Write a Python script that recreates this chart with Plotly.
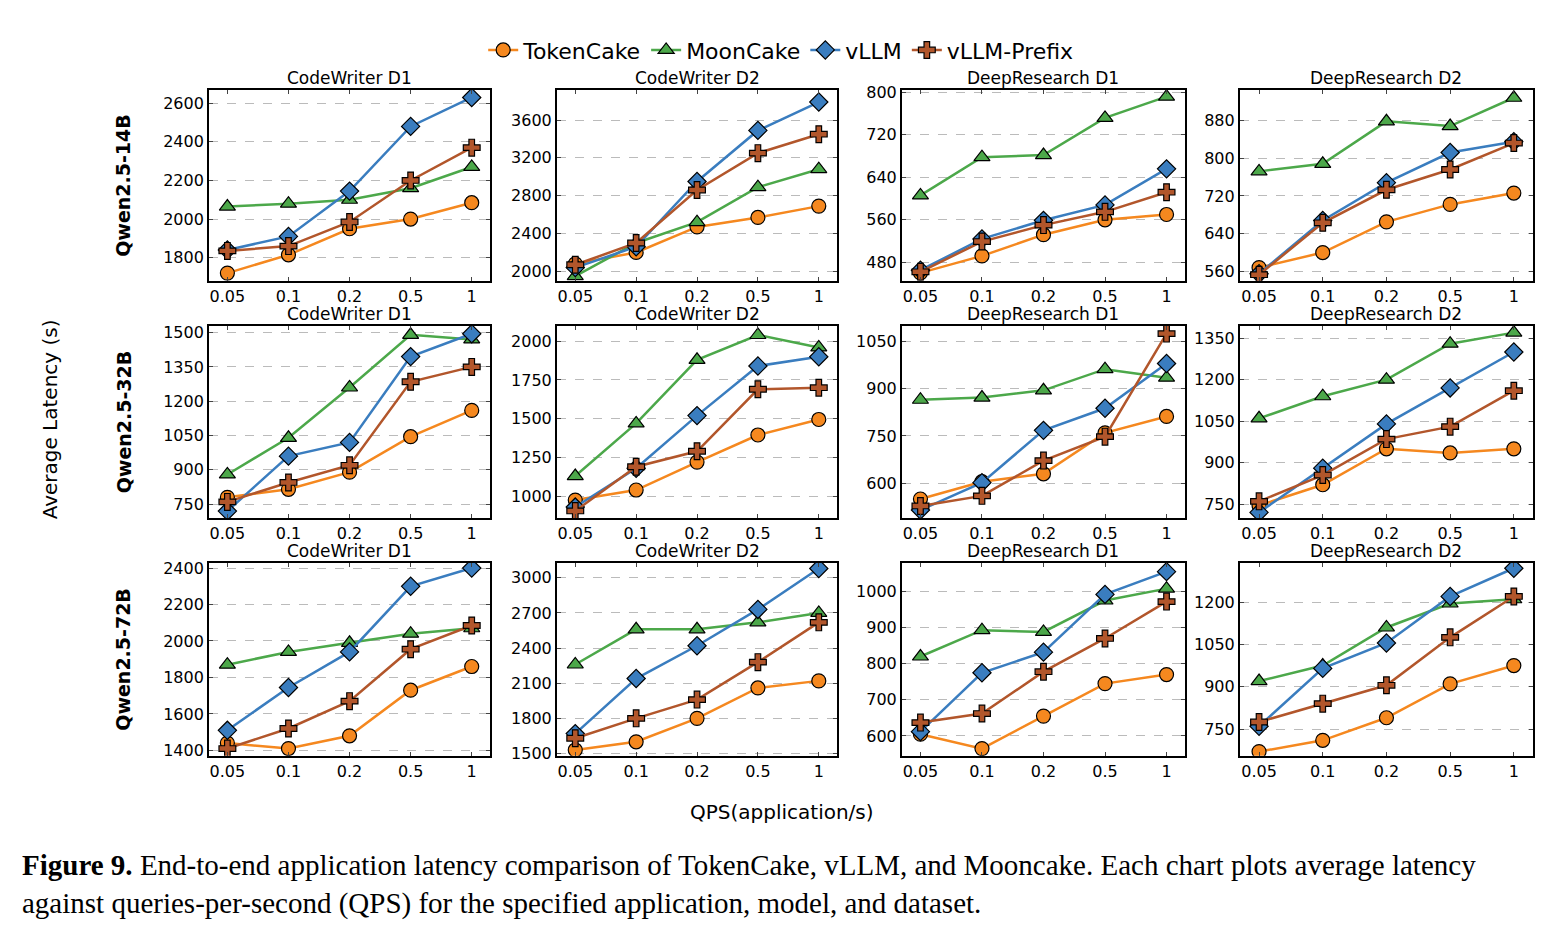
import plotly.graph_objects as go

qps = ["0.05", "0.1", "0.2", "0.5", "1"]
models = ["Qwen2.5-14B", "Qwen2.5-32B", "Qwen2.5-72B"]
apps = ["CodeWriter D1", "CodeWriter D2", "DeepResearch D1", "DeepResearch D2"]

# [row][col] -> (TokenCake, MoonCake, vLLM, vLLM-Prefix)
data = [
    [
        ([1720, 1815, 1950, 2000, 2085], [2065, 2080, 2100, 2160, 2270], [1840, 1910, 2145, 2480, 2630], [1835, 1860, 1985, 2200, 2370]),
        ([2080, 2200, 2470, 2570, 2690], [1950, 2300, 2520, 2890, 3080], [2040, 2260, 2950, 3490, 3790], [2070, 2300, 2860, 3250, 3450]),
        ([460, 492, 532, 560, 570], [606, 678, 682, 752, 792], [465, 524, 559, 588, 656], [462, 519, 550, 575, 612]),
        ([568, 600, 665, 702, 726], [772, 788, 878, 868, 928], [555, 668, 748, 812, 835], [553, 663, 733, 776, 832]),
    ],
    [
        ([780, 815, 890, 1045, 1160], [880, 1040, 1260, 1490, 1470], [720, 960, 1020, 1395, 1495], [760, 845, 920, 1285, 1350]),
        ([975, 1040, 1220, 1395, 1495], [1130, 1470, 1880, 2040, 1960], [930, 1180, 1520, 1840, 1900], [905, 1190, 1290, 1690, 1700]),
        ([550, 605, 630, 760, 812], [865, 872, 895, 962, 935], [515, 602, 768, 838, 980], [528, 560, 672, 748, 1075]),
        ([745, 820, 950, 935, 950], [1060, 1140, 1200, 1330, 1370], [720, 880, 1040, 1170, 1300], [760, 855, 985, 1030, 1160]),
    ],
    [
        ([1440, 1410, 1480, 1730, 1860], [1870, 1940, 1990, 2040, 2070], [1510, 1745, 1940, 2300, 2400], [1410, 1520, 1670, 1955, 2085]),
        ([1530, 1600, 1800, 2060, 2120], [2260, 2560, 2560, 2620, 2700], [1670, 2140, 2420, 2730, 3080], [1630, 1800, 1960, 2280, 2620]),
        ([605, 565, 655, 745, 770], [820, 893, 888, 975, 1008], [612, 775, 832, 992, 1055], [637, 662, 778, 870, 972]),
        ([670, 710, 790, 910, 975], [920, 975, 1110, 1195, 1210], [760, 965, 1055, 1220, 1320], [775, 840, 905, 1075, 1220]),
    ],
]
yranges = [
    [(1680, 2670, 200), (1900, 3920, 400), (445, 805, 80), (540, 945, 80)],
    [(690, 1530, 150), (860, 2100, 250), (490, 1100, 150), (700, 1395, 150)],
    [(1370, 2430, 200), (1480, 3130, 300), (545, 1080, 100), (655, 1340, 150)],
]

series = ["TokenCake", "MoonCake", "vLLM", "vLLM-Prefix"]
colors = ["#F5881F", "#4CA84A", "#3A7DBF", "#B2562B"]
symbols = ["circle", "triangle-up", "diamond", "cross"]

xdom = [(0.1288, 0.3088), (0.3517, 0.5311), (0.5727, 0.7540), (0.7892, 0.9769)]
ydom = [(0.7126, 0.9192), (0.4563, 0.6641), (0.1991, 0.4080)]
font = "DejaVu Sans"

fig = go.Figure()
annotations = []
for r in range(3):
    for c in range(4):
        k = r * 4 + c + 1
        xa = "x" if k == 1 else f"x{k}"
        ya = "y" if k == 1 else f"y{k}"
        for s in range(4):
            fig.add_trace(go.Scatter(
                x=qps, y=data[r][c][s], xaxis=xa, yaxis=ya, mode="lines+markers",
                name=series[s], showlegend=(k == 1),
                line=dict(color=colors[s], width=2.5),
                marker=dict(symbol=symbols[s], size=14, color=colors[s], line=dict(color="black", width=1.2)),
            ))
        lo, hi, dt = yranges[r][c]
        fig.update_layout(**{
            ("xaxis" if k == 1 else f"xaxis{k}"): dict(
                domain=xdom[c], anchor=ya, range=[-0.3, 4.3], type="category",
                showline=True, linecolor="black", linewidth=2, mirror="ticks",
                ticks="inside", ticklen=4, showgrid=False, tickfont=dict(size=16, color="black")),
            ("yaxis" if k == 1 else f"yaxis{k}"): dict(
                domain=ydom[r], anchor=xa, range=[lo, hi], dtick=dt, tick0=0,
                showline=True, linecolor="black", linewidth=2, mirror="ticks",
                ticks="inside", ticklen=4, showgrid=True, gridcolor="#bbbbbb", griddash="dash",
                gridwidth=1, zeroline=False, tickfont=dict(size=16, color="black")),
        })
        annotations.append(dict(text=apps[c], x=(xdom[c][0] + xdom[c][1]) / 2, y=ydom[r][1],
                                xref="paper", yref="paper", xanchor="center", yanchor="bottom",
                                showarrow=False, font=dict(size=17, color="black", family=font)))
    annotations.append(dict(text=f"<b>{models[r]}</b>", x=0.074, y=(ydom[r][0] + ydom[r][1]) / 2,
                            xref="paper", yref="paper", xanchor="center", yanchor="middle",
                            textangle=-90, showarrow=False,
                            font=dict(size=19, color="black", family=font)))

annotations += [
    dict(text="Average Latency (s)", x=0.027, y=0.563, xref="paper", yref="paper", textangle=-90,
         xanchor="center", yanchor="middle",
         showarrow=False, font=dict(size=20, color="black", family=font)),
    dict(text="QPS(application/s)", x=0.496, y=0.138, xref="paper", yref="paper", showarrow=False,
         xanchor="center", yanchor="middle", font=dict(size=20, color="black", family=font)),
    dict(text="<b>Figure 9.</b> End-to-end application latency comparison of TokenCake, vLLM, and Mooncake. Each chart plots average latency<br>against queries-per-second (QPS) for the specified application, model, and dataset.",
         x=0.008, y=0.02, xref="paper", yref="paper", xanchor="left", yanchor="bottom", align="left",
         showarrow=False, font=dict(size=29, color="black", family="Liberation Serif")),
]

fig.update_layout(
    width=1561, height=939, margin=dict(l=0, r=0, t=0, b=0),
    paper_bgcolor="white", plot_bgcolor="white",
    font=dict(family=font, color="black"),
    annotations=annotations,
    legend=dict(orientation="h", x=0.495, y=0.962, xanchor="center", yanchor="middle",
                font=dict(size=22, family=font), bgcolor="rgba(0,0,0,0)"),
)

fig.write_html("out.html")
